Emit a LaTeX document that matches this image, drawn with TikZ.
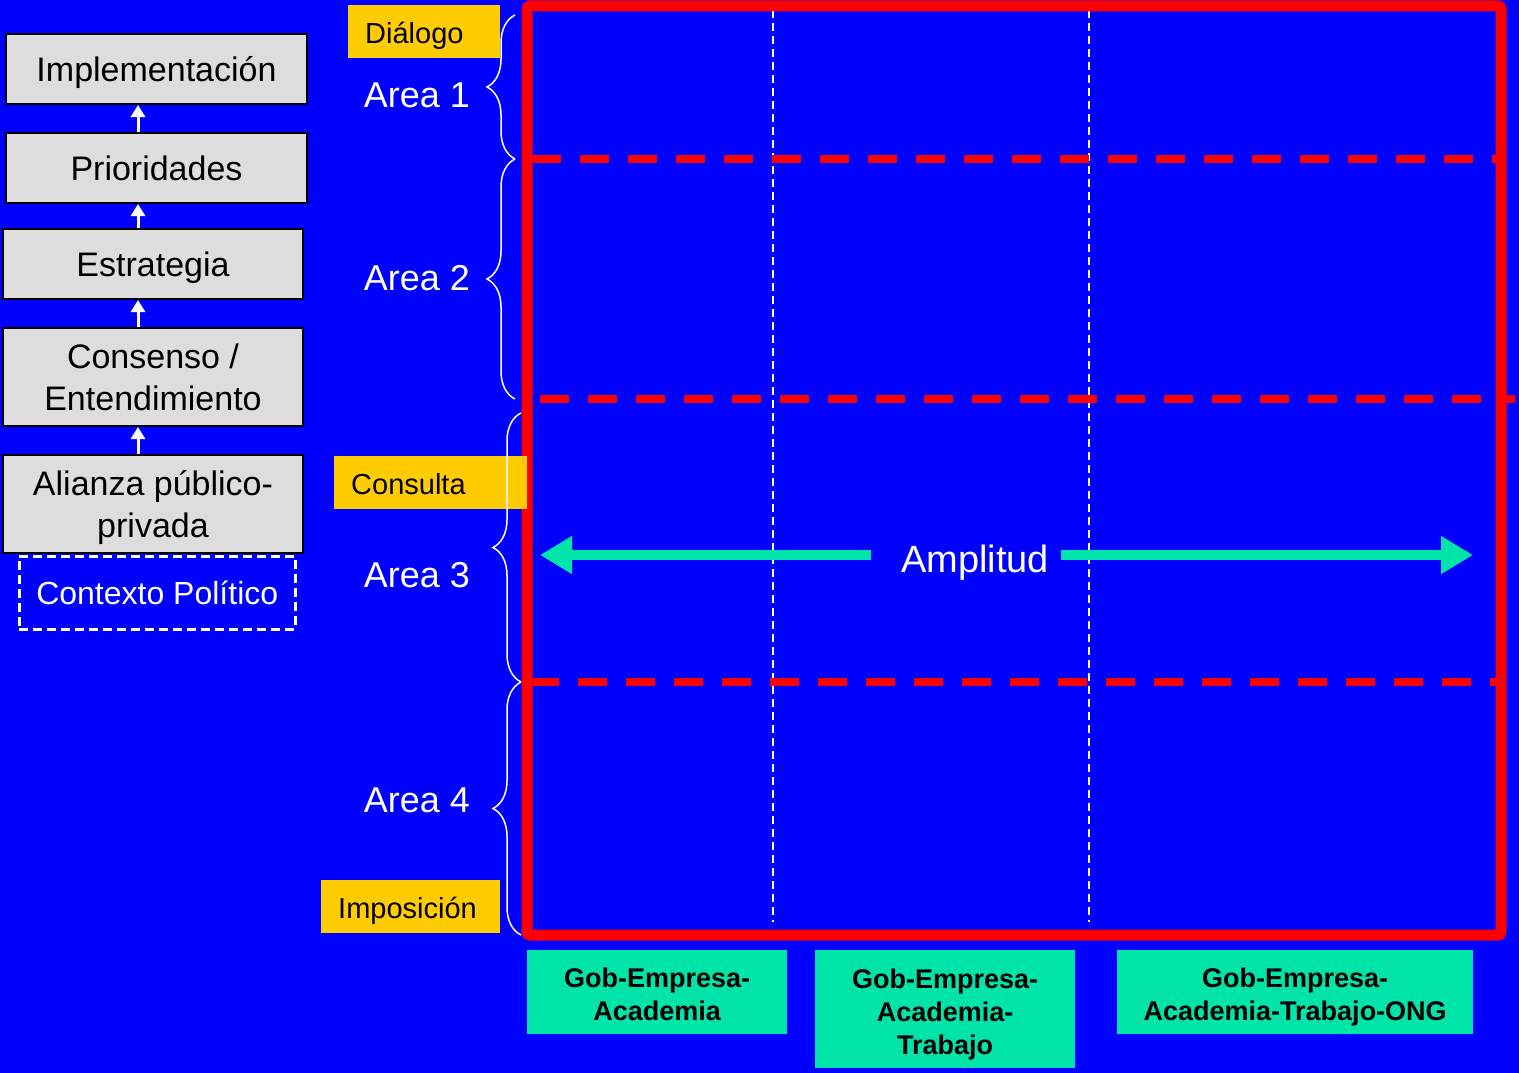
\documentclass[tikz,border=0pt]{standalone}
\usepackage{fontspec}
\setmainfont{Liberation Sans}
\usetikzlibrary{arrows.meta,decorations.pathreplacing}
\definecolor{fondoazul}{RGB}{0,0,255}
\definecolor{rojomarco}{RGB}{255,0,0}
\definecolor{grispaso}{RGB}{221,221,221}
\definecolor{amarillo}{RGB}{255,204,0}
\definecolor{verdeagua}{RGB}{0,228,170}

\begin{document}
\begin{tikzpicture}[x=1pt,y=-1pt,
  paso/.style={draw=black,line width=2pt,fill=grispaso,anchor=north west,inner sep=0pt,align=center,
               text height=25pt,text depth=0pt,font=\fontsize{34}{42}\selectfont},
  etiqueta/.style={fill=amarillo,anchor=north west,inner xsep=17pt,inner ysep=0pt,minimum height=53pt,align=left,
                   text height=23pt,text depth=0pt,font=\fontsize{29}{34}\selectfont},
  grupo/.style={fill=verdeagua,anchor=north west,inner sep=0pt,align=center,text depth=0pt,
                font=\bfseries\fontsize{27}{33}\selectfont},
  area/.style={text=white,font=\fontsize{36}{40}\selectfont},
  flecha/.style={white,line width=3pt,-{Triangle[length=12pt,width=14pt]}},
  llave/.style={white,line width=1.5pt,decorate,decoration={brace,amplitude=28pt}},
  ampflecha/.style={verdeagua,line width=10pt,-{Triangle[length=32pt,width=36pt]}}]
  % fondo
  \fill[fondoazul] (0,0) rectangle (1519,1073);
  % columnas
  \foreach \x in {773,1089}
    {
     \draw[white,line width=2.5pt,dash pattern=on 8pt off 5pt] (\x,10) -- (\x,922);
    }
  % niveles
  \foreach \y/\xa/\xb in {159/532/1500,399/540/1515,682/530/1500}
    {
     \draw[rojomarco,line width=8pt,dash pattern=on 29pt off 19pt] (\xa,\y) -- (\xb,\y);
    }
  \draw[rojomarco,line width=11pt,rounded corners=3pt] (527,6) rectangle (1501,935);

  % pasos
  \node[paso,minimum width=301pt,minimum height=70pt] (impl) at (5,33)  {Implementación};
  \node[paso,minimum width=301pt,minimum height=70pt] (prio) at (5,132) {Prioridades};
  \node[paso,minimum width=300pt,minimum height=70pt] (estr) at (2,228) {Estrategia};
  \node[paso,minimum width=300pt,minimum height=98pt,text height=67pt] (cons) at (2,327) {Consenso /\\Entendimiento};
  \node[paso,minimum width=300pt,minimum height=98pt,text height=67pt] (ali)  at (2,454) {Alianza público-\\privada};
  \node[draw=white,line width=2.5pt,dash pattern=on 9pt off 5pt,anchor=north west,inner sep=0pt,
        minimum width=276pt,minimum height=73pt,text=white,text height=24pt,text depth=0pt,
        font=\fontsize{32}{38}\selectfont] (ctx) at (18,555) {Contexto Político};
  \coordinate (ax) at (138,0);
  \draw[flecha] (ali.north -| ax)  -- (cons.south -| ax);
  \draw[flecha] (cons.north -| ax) -- (estr.south -| ax);
  \draw[flecha] (estr.north -| ax) -- (prio.south -| ax);
  \draw[flecha] (prio.north -| ax) -- (impl.south -| ax);

  % modos
  \node[etiqueta,text width=118pt] (dial) at (348,5)   {Diálogo};
  \node[etiqueta,text width=159pt] (cons2) at (334,456) {Consulta};
  \node[etiqueta,text width=145pt] (impo) at (321,880) {Imposición};

  % areas
  \node[area] (a1) at (417,95)  {Area 1};
  \node[area] (a2) at (417,278) {Area 2};
  \node[area] (a3) at (417,575) {Area 3};
  \node[area] (a4) at (417,800) {Area 4};
  \draw[llave] (515,159) -- (515,15);
  \draw[llave] (515,399) -- (515,159);
  \draw[llave] (521,682) -- (521,413);
  \draw[llave] (521,935) -- (521,682);

  % amplitud
  \node[text=white,inner xsep=20pt,text height=34pt,text depth=0pt,font=\fontsize{38}{42}\selectfont]
        (amp) at (975,555) {Amplitud};
  \coordinate (ampL) at (540,555);
  \coordinate (ampR) at (1473,555);
  \draw[ampflecha] ([xshift=-10pt]amp.west) -- (ampL);
  \draw[ampflecha] ([xshift=-8pt]amp.east) -- (ampR);

  % grupos
  \node[grupo,minimum width=260pt,minimum height=84pt,text height=57pt]  (g1) at (527,950)  {Gob-Empresa-\\Academia};
  \node[grupo,minimum width=260pt,minimum height=118pt,text height=90pt] (g2) at (815,950)  {Gob-Empresa-\\Academia-\\Trabajo};
  \node[grupo,minimum width=356pt,minimum height=84pt,text height=57pt]  (g3) at (1117,950) {Gob-Empresa-\\Academia-Trabajo-ONG};
\end{tikzpicture}
\end{document}
